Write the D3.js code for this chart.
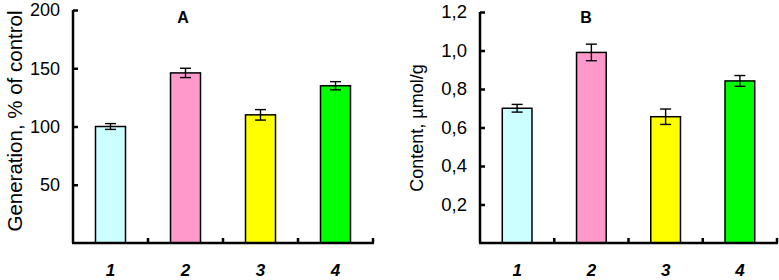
<!DOCTYPE html>
<html><head><meta charset="utf-8">
<script src="https://cdn.jsdelivr.net/npm/d3@7/dist/d3.min.js"></script>
<style>body{margin:0;background:#fff}svg{display:block}text{font-family:Arial,"Liberation Sans",sans-serif}</style>
</head><body>
<svg id="c" width="779" height="280"></svg>
<script>
const categories = ["1","2","3","4"];
const colors = ["#ccffff","#ff99cc","#ffff00","#00ff00"];
const valuesA = [100, 146, 110, 135];
const errorsA = [2.5, 4, 4.5, 3.5];
const valuesB = [0.70, 0.99, 0.656, 0.842];
const errorsB = [0.02, 0.043, 0.04, 0.028];
const ticksA = [50, 100, 150, 200];
const ticksB = [0.2, 0.4, 0.6, 0.8, 1.0, 1.2];

const svg = d3.select("#c");

function panel(o){
  const g = svg.append("g");
  const x = d3.scaleBand().domain(categories).range([o.x0, o.x1]).paddingInner(0.6).paddingOuter(0.3);
  const y = d3.scaleLinear().domain([0, o.max]).range([o.yb, o.yt]);
  g.selectAll("rect.bar").data(o.values).join("rect")
    .attr("x",(d,i)=>x(categories[i])).attr("width",x.bandwidth())
    .attr("y",d=>y(d)).attr("height",d=>y(0)-y(d))
    .attr("fill",(d,i)=>colors[i]).attr("stroke","#000").attr("stroke-width",1.5);
  o.values.forEach((v,i)=>{
    const cx = x(categories[i]) + x.bandwidth()/2, e = o.errors[i];
    g.append("line").attr("x1",cx).attr("x2",cx).attr("y1",y(v-e)).attr("y2",y(v+e)).attr("stroke","#000").attr("stroke-width",1.4);
    [v-e, v+e].forEach(t=>g.append("line").attr("x1",cx-5.5).attr("x2",cx+5.5).attr("y1",y(t)).attr("y2",y(t)).attr("stroke","#000").attr("stroke-width",1.4));
  });
  const ya = d3.axisLeft(y).tickValues(o.ticks).tickSize(-5).tickPadding(13).tickFormat(o.fmt);
  const yg = g.append("g").attr("transform",`translate(${o.x0},0)`).call(ya);
  yg.select(".domain").attr("d",`M0,${o.yt}V${o.yb}`).attr("stroke-width",2.5);
  yg.selectAll(".tick line").attr("stroke-width",2.5);
  yg.selectAll(".tick text").attr("font-size",o.tfs).attr("fill","#000").attr("font-family","Arial, 'Liberation Sans', sans-serif");
  const xTicks = categories.map((c,i)=>o.x0 + (i+1)*(o.x1-o.x0)/4);
  g.append("line").attr("x1",o.x0-1).attr("x2",o.x1+1).attr("y1",o.yb).attr("y2",o.yb).attr("stroke","#000").attr("stroke-width",2.5);
  g.selectAll("line.xt").data(xTicks).join("line").attr("class","xt")
    .attr("x1",d=>d).attr("x2",d=>d).attr("y1",o.yb).attr("y2",o.yb-5).attr("stroke","#000").attr("stroke-width",2.5);
  g.selectAll("text.cat").data(categories).join("text").attr("class","cat")
    .attr("x",c=>x(c)+x.bandwidth()/2).attr("y",276).attr("text-anchor","middle")
    .attr("font-size",17).attr("font-weight","bold").attr("font-style","italic").text(c=>c);
  g.append("text").attr("x",o.tx).attr("y",23).attr("text-anchor","middle").attr("font-size",16).attr("font-weight","bold").text(o.title);
  g.append("text").attr("transform",`translate(${o.lx},${o.ly}) rotate(-90)`).attr("text-anchor","middle")
    .attr("font-size",o.lfs).text(o.label);
}

panel({x0:73, x1:373, yt:10, yb:243, max:200, values:valuesA, errors:errorsA, ticks:ticksA, tfs:18,
  fmt:d3.format("d"), title:"A", tx:183, label:"Generation, % of control", lx:22, ly:121, lfs:20.5});
panel({x0:480, x1:777, yt:12, yb:243, max:1.2, values:valuesB, errors:errorsB, ticks:ticksB, tfs:18.5,
  fmt:d=>d3.format(".1f")(d).replace(".",","), title:"B", tx:586, label:"Content, µmol/g", lx:423, ly:128, lfs:18});
</script>
</body></html>
